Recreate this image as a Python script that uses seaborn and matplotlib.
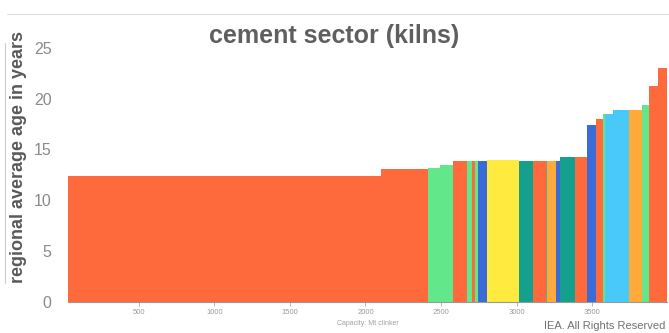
import numpy as np
import pandas as pd
import seaborn as sns
import matplotlib.pyplot as plt
from matplotlib.lines import Line2D

sns.set_theme(style='white')
plt.rcParams['font.family'] = ['Liberation Sans Narrow', 'Liberation Sans', 'DejaVu Sans']

# cumulative capacity edges (Mt clinker) and regional average kiln age (years)
edges = [0, 2100, 2416, 2493, 2577, 2674, 2703, 2725, 2747, 2806, 3018, 3110, 3199,
         3210, 3261, 3287, 3386, 3464, 3526, 3570, 3585, 3636, 3746, 3828, 3878, 3936, 3993]
ages = [12.4, 13.1, 13.2, 13.5, 13.9, 13.9, 13.9, 13.9, 13.9, 14.0, 13.9, 13.9, 13.9,
        13.9, 13.9, 14.3, 14.3, 17.4, 18.0, 18.5, 18.45, 18.9, 18.9, 19.4, 21.3, 23.0]
groups = ['red', 'red', 'green', 'green', 'red', 'green', 'red', 'green', 'blue', 'yellow',
          'teal', 'red', 'green', 'orange', 'blue', 'teal', 'red', 'blue', 'red', 'green',
          'lightblue', 'lightblue', 'orange', 'green', 'red', 'red']
palette = {'red': '#FF6A3D', 'green': '#62E88A', 'blue': '#3A6BD6', 'yellow': '#FFEB3F',
           'teal': '#15A08E', 'orange': '#FFAA3A', 'lightblue': '#48C9F7'}
xticks = [500, 1000, 1500, 2000, 2500, 3000, 3500]
yticks = [0, 5, 10, 15, 20, 25]

mid = [(a + b) / 2 for a, b in zip(edges[:-1], edges[1:])]
df = pd.DataFrame({'capacity': mid, 'age': ages, 'group': groups})

fig = plt.figure(figsize=(6.69, 3.33), dpi=100)
ax = fig.add_axes([0.102, 0.094, 0.895, 0.762])
sns.histplot(data=df, x='capacity', weights='age', hue='group', palette=palette,
             bins=edges, multiple='layer', element='bars', alpha=1, linewidth=0,
             legend=False, ax=ax)

ax.set_xlim(33, 3995)
ax.set_ylim(0, 25)
ax.set_xticks(xticks)
ax.set_xticklabels([str(t) for t in xticks], fontsize=5.5, color='#9a9a9a')
ax.set_yticks(yticks)
ax.set_yticklabels([str(t) for t in yticks], fontsize=11.5, color='#8a8a8a')
ax.tick_params(axis='y', length=0, pad=12)
ax.tick_params(axis='x', length=3, width=0.6, color='#aaaaaa', pad=2, bottom=True)
for s in ['top', 'right', 'left']:
    ax.spines[s].set_visible(False)
ax.spines['bottom'].set_color('#999999')
ax.spines['bottom'].set_linewidth(0.8)
ax.set_xlabel('Capacity: Mt clinker', fontsize=5, color='#a0a0a0', labelpad=3)
ax.set_ylabel('regional average age in years', fontsize=13, fontweight='bold',
              color='#595959', family=['Liberation Sans', 'DejaVu Sans'])
ax.yaxis.set_label_coords(-0.069, 0.57)

fig.text(0.5, 0.892, 'cement sector (kilns)', ha='center', va='center', fontsize=18,
         fontweight='bold', color='#5f5f5f', family=['Liberation Sans', 'DejaVu Sans'])
fig.text(0.995, 0.02, 'IEA. All Rights Reserved', ha='right', va='center', fontsize=8,
         color='#707070')

# faint frame from the source screenshot
fig.add_artist(Line2D([0.011, 1.0], [0.958, 0.958], color='#dddddd', lw=0.8))
fig.add_artist(Line2D([0.008, 0.008], [0.15, 0.87], color='#cccccc', lw=0.8))

fig.savefig('out.png', dpi=100)
